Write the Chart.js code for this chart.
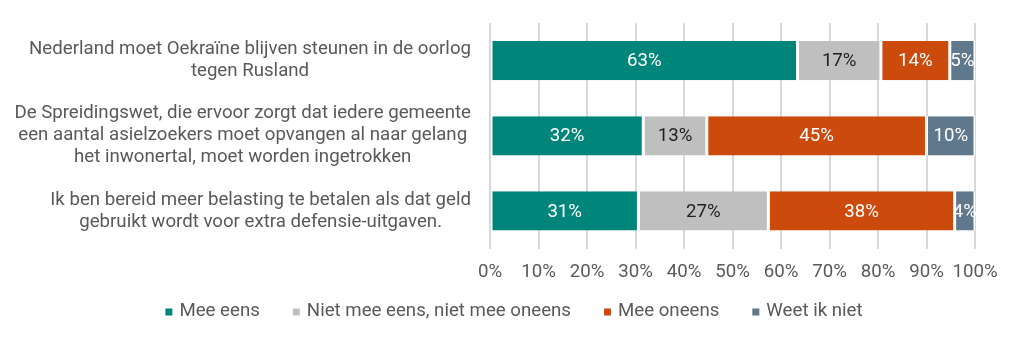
<!DOCTYPE html>
<html>
<head>
<meta charset="utf-8">
<script src="https://cdn.jsdelivr.net/npm/chart.js@4/dist/chart.umd.min.js"></script>
<style>
  html, body { margin: 0; padding: 0; background: #fff; }
  #wrap { width: 1021px; height: 342px; }
</style>
</head>
<body>
<div id="wrap"><canvas id="stellingen"></canvas></div>
<script>
// stellingen (categorieen), elke regel een apart element
var stellingen = [
    ['Nederland moet Oekraïne blijven steunen in de oorlog', 'tegen Rusland'],
    ['De Spreidingswet, die ervoor zorgt dat iedere gemeente', 'een aantal asielzoekers moet opvangen al naar gelang', 'het inwonertal, moet worden ingetrokken'],
    ['Ik ben bereid meer belasting te betalen als dat geld', 'gebruikt wordt voor extra defensie-uitgaven.']
];

var reeksen = ['Mee eens', 'Niet mee eens, niet mee oneens', 'Mee oneens', 'Weet ik niet'];

// percentages zoals
var meeEens = [63.4, 31.6, 30.6];
var neutraal = [17.2, 13.1, 26.8];
var meeOneens = [14.2, 45.3, 38.4];
var weetNiet = [5.2, 10.0, 4.2];

var xTicks = [0, 10, 20, 30, 40, 50, 60, 70, 80, 90, 100];

var kleuren = ['#00857a', '#bfbfbf', '#cc4a0c', '#5f788c'];
var labelKleuren = ['#ffffff', '#1f1f1f', '#ffffff', '#ffffff'];

var tekstGrijs = '#595959';
var lettertype = 'Roboto';
var fontGrootte = 18.67;

// waarden in de balken tekenen
var balkLabels = {
    id: 'balkLabels',
    afterDatasetsDraw: function (chart) {
        var ctx = chart.ctx;
        ctx.save();
        ctx.font = fontGrootte + 'px ' + lettertype;
        ctx.textAlign = 'center';
        ctx.textBaseline = 'middle';
        chart.data.datasets.forEach(function (ds, i) {
            var meta = chart.getDatasetMeta(i);
            meta.data.forEach(function (bar, j) {
                var x = (bar.x + bar.base) / 2;
                ctx.fillStyle = labelKleuren[i];
                ctx.fillText(Math.round(ds.data[j]) + '%', x, bar.y + 1);
            });
        });
        ctx.restore();
    }
};

// categorie-labels: blok rechts uitgelijnd, regels gecentreerd
var categorieLabels = {
    id: 'categorieLabels',
    afterDraw: function (chart) {
        var ctx = chart.ctx;
        var y = chart.scales.y;
        var rechts = chart.chartArea.left - 19;
        var regelHoogte = 22;
        ctx.save();
        ctx.font = fontGrootte + 'px ' + lettertype;
        ctx.fillStyle = tekstGrijs;
        ctx.textAlign = 'center';
        ctx.textBaseline = 'middle';
        stellingen.forEach(function (regels, i) {
            var breedste = 0;
            regels.forEach(function (r) {
                breedste = Math.max(breedste, ctx.measureText(r).width);
            });
            var midden = rechts - breedste / 2;
            var yc = y.getPixelForTick(i);
            var start = yc - (regels.length - 1) * regelHoogte / 2;
            regels.forEach(function (r, k) {
                ctx.fillText(r, midden, start + k * regelHoogte);
            });
        });
        ctx.restore();
    }
};

// legenda onderaan, zelf getekend zodat de afstanden kloppen
var legenda = {
    id: 'legenda',
    afterDraw: function (chart) {
        var ctx = chart.ctx;
        var blok = 7, tussen = 7, gat = 33;
        var yc = 312;
        ctx.save();
        ctx.font = fontGrootte + 'px ' + lettertype;
        ctx.textBaseline = 'middle';
        ctx.textAlign = 'left';
        var breedtes = reeksen.map(function (r) { return ctx.measureText(r).width; });
        var totaal = 0;
        breedtes.forEach(function (b) { totaal += blok + tussen + b; });
        totaal += gat * (reeksen.length - 1);
        var x = 514 - totaal / 2;
        reeksen.forEach(function (r, i) {
            ctx.fillStyle = kleuren[i];
            ctx.fillRect(x, yc - blok / 2, blok, blok);
            ctx.fillStyle = tekstGrijs;
            ctx.fillText(r, x + blok + tussen, yc - 1);
            x += blok + tussen + breedtes[i] + gat;
        });
        ctx.restore();
    }
};

function maakDataset(label, data, kleur) {
    return {
        label: label,
        data: data,
        backgroundColor: kleur,
        borderColor: '#ffffff',
        borderWidth: { left: 1.5, right: 1.5, top: 0, bottom: 0 },
        borderSkipped: false,
        barPercentage: 0.522,
        categoryPercentage: 1
    };
}

var ctx = document.getElementById('stellingen').getContext('2d');
var chart = new Chart(ctx, {
    type: 'bar',
    data: {
        labels: stellingen,
        datasets: [
            maakDataset(reeksen[0], meeEens, kleuren[0]),
            maakDataset(reeksen[1], neutraal, kleuren[1]),
            maakDataset(reeksen[2], meeOneens, kleuren[2]),
            maakDataset(reeksen[3], weetNiet, kleuren[3])
        ]
    },
    options: {
        indexAxis: 'y',
        responsive: true,
        maintainAspectRatio: false,
        animation: false,
        layout: {
            padding: { top: 23, left: 0, right: 0, bottom: 45 }
        },
        scales: {
            x: {
                stacked: true,
                min: 0,
                max: 100,
                afterBuildTicks: function (scale) {
                    scale.ticks = xTicks.map(function (v) { return { value: v }; });
                },
                grid: {
                    color: '#d9d9d9',
                    lineWidth: 2,
                    drawTicks: false
                },
                border: { display: false },
                ticks: {
                    padding: 13,
                    autoSkip: false,
                    maxRotation: 0,
                    minRotation: 0,
                    color: tekstGrijs,
                    font: { family: lettertype, size: fontGrootte },
                    callback: function (v) { return v + '%'; }
                }
            },
            y: {
                stacked: true,
                grid: { display: false },
                border: { display: false },
                ticks: { display: false },
                afterFit: function (scale) { scale.width = 490; }
            },
            rechts: {
                type: 'linear',
                position: 'right',
                grid: { display: false },
                border: { display: false },
                ticks: { display: false },
                afterFit: function (scale) { scale.width = 46; }
            }
        },
        plugins: {
            legend: { display: false },
            tooltip: { enabled: false }
        }
    },
    plugins: [balkLabels, categorieLabels, legenda]
});

window.onerror = function (message, source, lineno, colno, error) {
    console.error('Global error handler:', message, source, lineno, colno, error);
};
</script>
</body>
</html>
